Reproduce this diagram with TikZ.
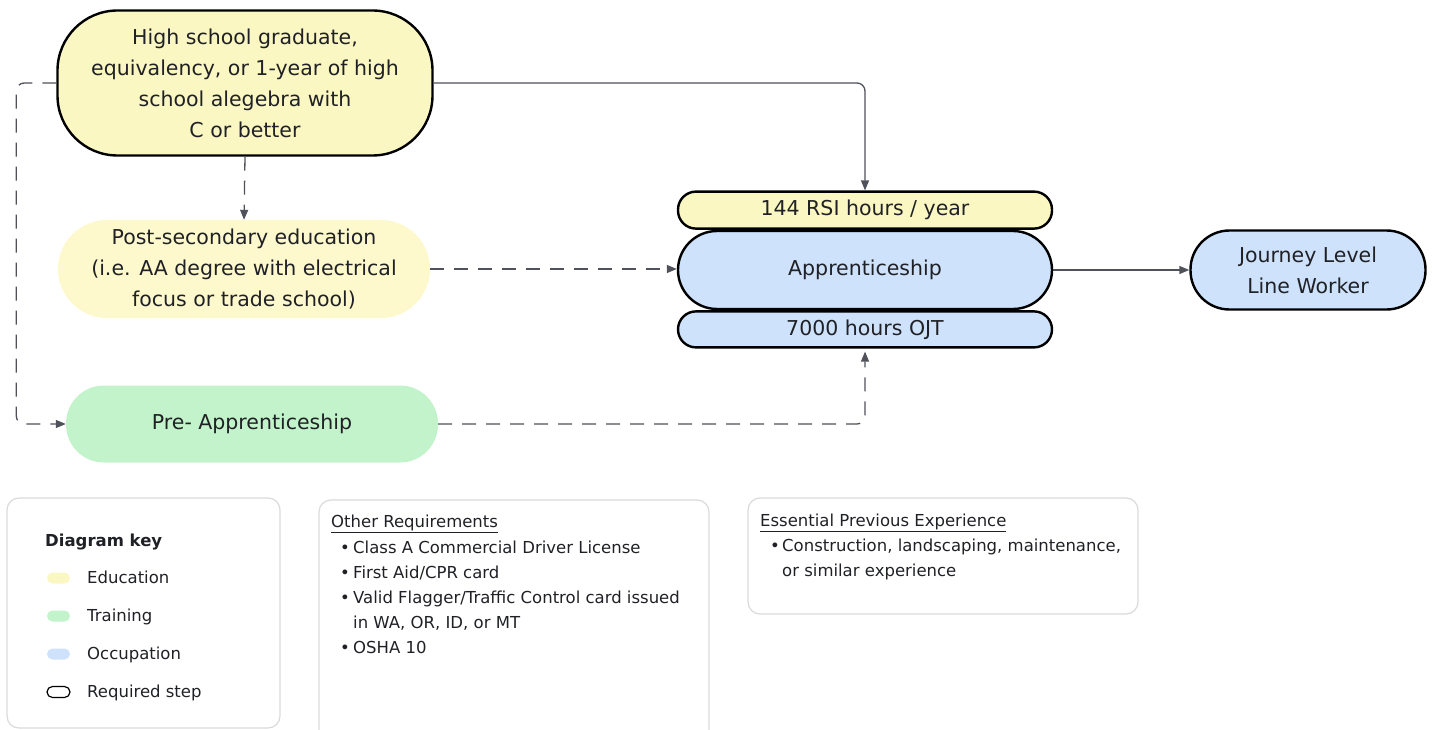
\documentclass[tikz,border=0pt]{standalone}
\usepackage{fontspec}
\setmainfont{DejaVu Sans}
\usetikzlibrary{arrows.meta,
                positioning}

\definecolor{ink}{HTML}{202126}
\definecolor{wire}{HTML}{4F525B}
\definecolor{keyline}{HTML}{DADADA}
\definecolor{edu}{HTML}{FBF7C3}
\definecolor{edupale}{HTML}{FDF9CC}
\definecolor{train}{HTML}{C3F3CA}
\definecolor{occ}{HTML}{CEE2FB}

\begin{document}
\begin{tikzpicture}[
x = 1pt, y = -1pt,
node distance = 0pt,
            > = {Triangle[length=10pt, width=8pt]},
every node/.append style = {text=ink, font=\fontsize{20.5}{31}\selectfont},
     P/.style = {rectangle, rounded corners=#1, align=center, inner sep=0pt},
     P/.default = 39pt,
     R/.style = {draw=black, line width=2.4pt},
  link/.style = {draw=wire, line width=1.3pt, rounded corners=8pt},
 dlink/.style = {link, dash pattern=on 14pt off 10pt},
     K/.style = {draw=keyline, line width=1.2pt, rounded corners=12pt},
     L/.style = {font=\fontsize{16.5}{25}\selectfont, anchor=base west, inner sep=0pt}
                    ]
\useasboundingbox (0,0) rectangle (1432,730);
% pathway steps
\node (hs)   [P=60pt, R, fill=edu, minimum width=375pt, minimum height=145pt]
             at (245,83) {High school graduate,\\ equivalency, or 1-year of high\\
                          school alegebra with\\ C or better};
\node (post) [P=49pt, fill=edupale, minimum width=372pt, minimum height=98pt]
             at (244,269) {Post-secondary education\\ (i.e. AA degree with electrical\\
                           focus or trade school)};
\node (pre)  [P=38pt, fill=train, minimum width=372pt, minimum height=77pt]
             at (252,424) {Pre- Apprenticeship};
\node (app)  [P, R, fill=occ, minimum width=374pt, minimum height=78pt]
             at (865,270) {Apprenticeship};
\node (rsi)  [P=18pt, R, fill=edu, minimum width=374pt, minimum height=37pt,
              above=of app] {144 RSI hours / year};
\node (ojt)  [P=18pt, R, fill=occ, minimum width=374pt, minimum height=36pt,
              below=of app] {7000 hours OJT};
\node (jlw)  [P, R, fill=occ, minimum width=235pt, minimum height=79pt]
             at (1308,270) {Journey Level\\ Line Worker};
%
\draw[link, ->]   (hs.east) -| (rsi.north);
\draw[dlink, ->]  (hs.south) -- (post.north);
\draw[dlink, ->]  (post.east) -- (post.east -| app.west);
\draw[dlink, ->]  (hs.west) -- ++ (-40,0) |- (pre.west);
\draw[dlink, ->, shorten >=3pt]  (pre.east) -| (ojt.south);
\draw[link, ->]   (app.east) -- (jlw.west);
% diagram key
\draw[K] (7,728) rectangle (280,498);
\node (keyT) [L, font=\fontsize{16.5}{25}\selectfont\bfseries] at (45,546.5) {Diagram key};
\foreach \c/\t [count=\i] in {edu/Education, train/Training, occ/Occupation}
  {
  \node (sw\i) [P=5.5pt, fill=\c, minimum width=23pt, minimum height=11pt]
               at (58.5,{540+38*\i}) {};
  \node (kt\i) [L] at (87,{545.5+38*\i}) {\t};
  }
\node (sw4) [P=5.5pt, draw=black, line width=1.2pt, minimum width=23pt, minimum height=11pt]
            at (58.5,692) {};
\node (kt4) [L] at (87,697.5) {Required step};
% other requirements
\draw[K] (319,731) -- (319,500) -- (709,500) -- (709,731);
\node (orT) [L] at (331,527.5) {\underline{Other Requirements}};
\foreach \t [count=\i] in {Class A Commercial Driver License, First Aid/CPR card,
                           Valid Flagger/Traffic Control card issued,
                           {in WA, OR, ID, or MT}, OSHA 10}
  \node (or\i) [L] at (353,{528+25*\i}) {\t};
\foreach \i in {1,2,3,5}
  \node (orb\i) [L] at (340,{528+25*\i}) {\textbullet};
% previous experience
\draw[K] (748,498) rectangle (1138,614);
\node (exT) [L] at (760,526.5) {\underline{Essential Previous Experience}};
\node (exb) [L] at (770,551.5) {\textbullet};
\node (ex1) [L] at (782,551.5) {Construction, landscaping, maintenance,};
\node (ex2) [L] at (782,576.5) {or similar experience};
\end{tikzpicture}
\end{document}
